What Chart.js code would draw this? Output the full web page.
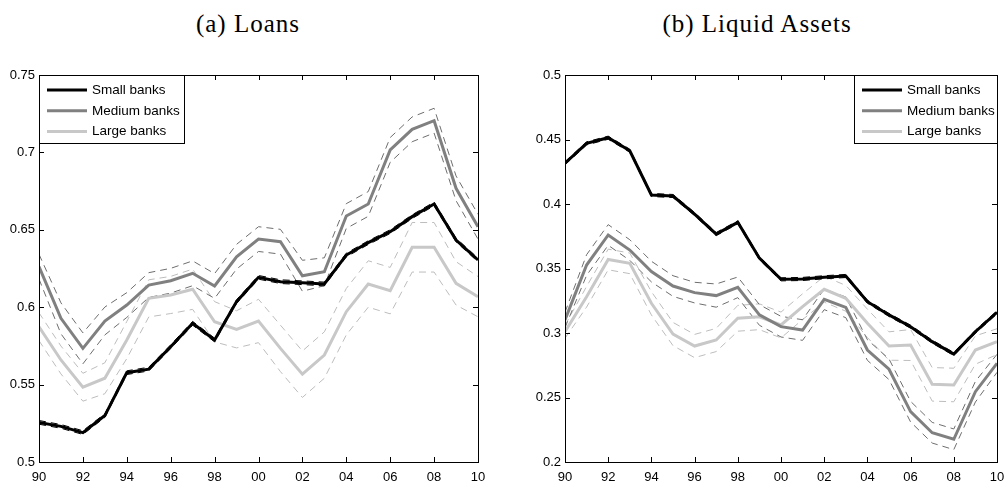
<!DOCTYPE html>
<html>
<head>
<meta charset="utf-8">
<script src="https://cdn.jsdelivr.net/npm/chart.js@4/dist/chart.umd.min.js"></script>
<style>
  html, body { margin: 0; padding: 0; background: #fff; width: 1004px; height: 482px; overflow: hidden; position: relative; }
  .title { position: absolute; top: 10px; font-family: "Liberation Serif", serif; font-size: 25px; letter-spacing: 1px; color: #000; white-space: nowrap; transform: translateX(-50%); }
  .box { position: absolute; top: 60px; height: 422px; }
</style>
</head>
<body>
<div class="title" style="left:248px">(a) Loans</div>
<div class="title" style="left:757px">(b) Liquid Assets</div>
<div class="box" style="left:0;width:500px"><canvas id="loans"></canvas></div>
<div class="box" style="left:520px;width:500px"><canvas id="liquid"></canvas></div>
<script>
// years 1990..2010
const years = [1990,1991,1992,1993,1994,1995,1996,1997,1998,1999,2000,2001,2002,2003,2004,2005,2006,2007,2008,2009,2010];
const seriesNames = ['Small banks', 'Medium banks', 'Large banks'];

// (a) Loans
const loansSmall  = [0.5256,0.523,0.519,0.530,0.5577,0.560,0.5745,0.5896,0.5788,0.6036,0.6193,0.6165,0.6158,0.615,0.6337,0.6417,0.6488,0.6585,0.6667,0.6434,0.6305];
const loansMedium = [0.6262,0.5928,0.5734,0.5911,0.6014,0.6143,0.6171,0.6219,0.6137,0.6326,0.644,0.6423,0.6203,0.6229,0.6589,0.6667,0.7016,0.7149,0.7205,0.6768,0.652];
const loansLarge  = [0.5874,0.5659,0.5483,0.5541,0.5788,0.6057,0.6079,0.6116,0.5906,0.5857,0.5911,0.5734,0.5567,0.5691,0.5971,0.615,0.6107,0.6387,0.6387,0.6154,0.6068];
// half-width of the dashed bands
const loansSmallErr  = [0.0012,0.0012,0.0012,0.0012,0.0012,0.0012,0.0012,0.0012,0.0012,0.0012,0.0012,0.0012,0.0012,0.0012,0.0012,0.0012,0.0012,0.0012,0.0012,0.0012,0.0012];
const loansMediumErr = [0.008,0.010,0.010,0.009,0.008,0.008,0.008,0.008,0.008,0.008,0.008,0.008,0.010,0.009,0.008,0.008,0.008,0.008,0.008,0.008,0.008];
const loansLargeErr  = [0.009,0.009,0.009,0.010,0.012,0.012,0.012,0.013,0.013,0.012,0.014,0.015,0.015,0.015,0.015,0.015,0.015,0.016,0.016,0.014,0.013];

// (b) Liquid Assets
const liqSmall  = [0.4316,0.447,0.4514,0.4413,0.407,0.4062,0.3922,0.3767,0.3858,0.358,0.3416,0.3419,0.3432,0.3442,0.3243,0.314,0.3049,0.2933,0.2837,0.301,0.316];
const liqMedium = [0.3101,0.3527,0.376,0.3643,0.3476,0.3364,0.3313,0.329,0.3354,0.314,0.3049,0.3023,0.3261,0.3199,0.2868,0.2719,0.239,0.2227,0.2176,0.2545,0.2765];
const liqLarge  = [0.301,0.3281,0.357,0.354,0.323,0.2992,0.2899,0.2946,0.3114,0.3126,0.3062,0.3204,0.3339,0.3269,0.3075,0.2899,0.2907,0.2602,0.2597,0.2868,0.2933];
const liqSmallErr  = [0.0012,0.0012,0.0012,0.0012,0.0012,0.0012,0.0012,0.0012,0.0012,0.0012,0.0012,0.0012,0.0012,0.0012,0.0012,0.0012,0.0012,0.0012,0.0012,0.0012,0.0012];
const liqMediumErr = [0.006,0.008,0.008,0.008,0.008,0.008,0.008,0.009,0.008,0.008,0.008,0.008,0.008,0.008,0.008,0.008,0.008,0.008,0.008,0.008,0.007];
const liqLargeErr  = [0.005,0.008,0.008,0.008,0.009,0.009,0.009,0.009,0.010,0.010,0.010,0.010,0.010,0.010,0.011,0.011,0.012,0.013,0.013,0.011,0.010];

const lineColors = ['#000000', '#808080', '#c8c8c8'];
const bandColors = ['#000000', '#6e6e6e', '#bdbdbd'];

function pts(vals, err, sign) {
    return years.map((yr, i) => ({ x: yr, y: vals[i] + sign * (err ? err[i] : 0) }));
}

function buildDatasets(main, errs) {
    const ds = [];
    main.forEach((vals, k) => {
        ds.push({ label: seriesNames[k], data: pts(vals, null, 0), borderColor: lineColors[k], borderWidth: 3, main: true });
    });
    main.forEach((vals, k) => {
        [1, -1].forEach(s => {
            ds.push({ label: '', data: pts(vals, errs[k], s), borderColor: bandColors[k], borderWidth: 1, borderDash: [7, 5] });
        });
    });
    return ds;
}

// MATLAB style box: frame, inward ticks, legend inside the axes
const boxPlugin = {
    id: 'matlabBox',
    afterDraw(chart, args, opts) {
        const { ctx, chartArea: a, scales } = chart;
        ctx.save();
        ctx.strokeStyle = '#000';
        ctx.lineWidth = 1;
        ctx.strokeRect(a.left + 0.5, a.top + 0.5, a.right - a.left, a.bottom - a.top);
        ctx.beginPath();
        scales.x.ticks.forEach(t => {
            const px = Math.round(scales.x.getPixelForValue(t.value)) + 0.5;
            ctx.moveTo(px, a.bottom); ctx.lineTo(px, a.bottom - 5);
            ctx.moveTo(px, a.top); ctx.lineTo(px, a.top + 5);
        });
        scales.y.ticks.forEach(t => {
            const py = Math.round(scales.y.getPixelForValue(t.value)) + 0.5;
            ctx.moveTo(a.left, py); ctx.lineTo(a.left + 5, py);
            ctx.moveTo(a.right, py); ctx.lineTo(a.right - 5, py);
        });
        ctx.stroke();

        // legend
        const w = opts.width, h = 68;
        const x0 = opts.side === 'left' ? a.left : a.right - w;
        const y0 = a.top;
        ctx.fillStyle = '#fff';
        ctx.fillRect(x0, y0, w, h);
        ctx.strokeRect(x0 + 0.5, y0 + 0.5, w, h);
        ctx.font = '13.5px "Liberation Sans", Arial, sans-serif';
        ctx.textBaseline = 'middle';
        chart.data.datasets.filter(d => d.main).forEach((d, i) => {
            const yy = y0 + 15 + i * 20.8;
            ctx.beginPath();
            ctx.strokeStyle = d.borderColor;
            ctx.lineWidth = 3;
            ctx.moveTo(x0 + 8, yy); ctx.lineTo(x0 + 48, yy);
            ctx.stroke();
            ctx.fillStyle = '#000';
            ctx.fillText(d.label, x0 + 53, yy);
        });
        ctx.restore();
    }
};

function makeChart(id, main, errs, yMin, yMax, padLeft, side, legendW) {
    return new Chart(document.getElementById(id), {
        type: 'line',
        data: { datasets: buildDatasets(main, errs) },
        options: {
            responsive: true,
            maintainAspectRatio: false,
            animation: false,
            elements: { point: { radius: 0 }, line: { tension: 0, fill: false } },
            layout: { padding: { top: 15, right: id === 'loans' ? 22 : 23, bottom: 0, left: 0 } },
            plugins: { legend: { display: false }, tooltip: { enabled: false },
                       matlabBox: { side: side, width: legendW } },
            scales: {
                x: {
                    type: 'linear', min: 1990, max: 2010,
                    grid: { display: false, drawTicks: false },
                    border: { display: false },
                    afterFit: s => { s.height = 20; },
                    ticks: {
                        stepSize: 2, padding: 8, color: '#000', maxRotation: 0,
                        font: { family: '"Liberation Sans", Arial, sans-serif', size: 13 },
                        callback: v => String(v % 100).padStart(2, '0')
                    }
                },
                y: {
                    min: yMin, max: yMax,
                    grid: { display: false, drawTicks: false },
                    border: { display: false },
                    afterFit: s => { s.width = padLeft; },
                    ticks: {
                        stepSize: 0.05, padding: 4, color: '#000',
                        font: { family: '"Liberation Sans", Arial, sans-serif', size: 13 },
                        callback: v => String(Number(v.toFixed(2)))
                    }
                }
            }
        },
        plugins: [boxPlugin]
    });
}

makeChart('loans', [loansSmall, loansMedium, loansLarge], [loansSmallErr, loansMediumErr, loansLargeErr], 0.5, 0.75, 39, 'left', 145);
makeChart('liquid', [liqSmall, liqMedium, liqLarge], [liqSmallErr, liqMediumErr, liqLargeErr], 0.2, 0.5, 45, 'right', 143);
</script>
</body>
</html>
